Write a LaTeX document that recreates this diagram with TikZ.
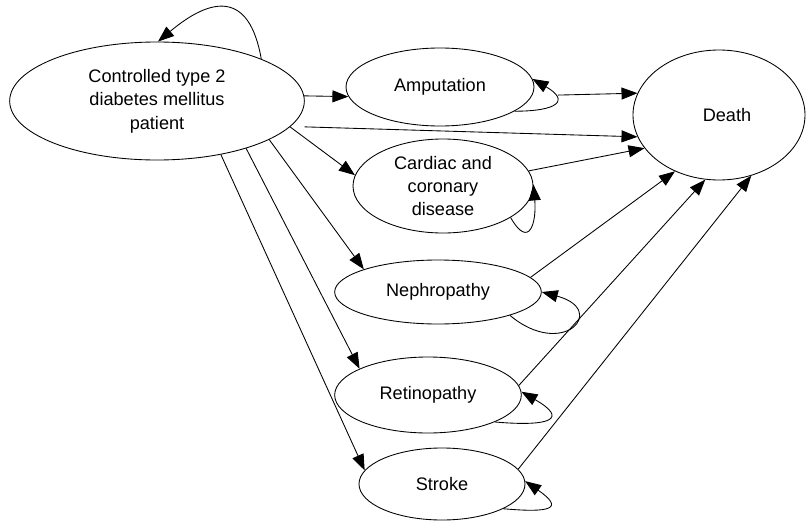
\documentclass[tikz,border=0pt]{standalone}
\usepackage{fontspec}
\setmainfont{Liberation Sans}
\usetikzlibrary{arrows.meta,shapes.geometric}

\begin{document}
\begin{tikzpicture}[
  x=0.75pt,y=-0.75pt,
  font=\fontsize{13.6}{17.5}\selectfont,>={Triangle[length=12pt,width=9pt]},
  state/.style={ellipse,draw,line width=0.65pt,inner sep=0pt,align=center},
  edge/.style={->,line width=0.65pt},
  selfloop/.style={->,line width=0.65pt,looseness=3.5}
]
\useasboundingbox (0,0) rectangle (807,521);
% States of the Markov model; each complication has its own row.
\node[state,minimum width=221pt,minimum height=88.5pt] (patient) at (157,101) {Controlled type 2\\diabetes mellitus\\patient};
\node[state,minimum width=141pt,minimum height=58.5pt] (amp) at (440,87) {Amputation};
\node[state,minimum width=135pt,minimum height=70.5pt] (cardiac) at (443,186) {Cardiac and\\coronary\\disease};
\node[state,minimum width=155pt,minimum height=48pt] (neph) at (438,292) {Nephropathy};
\node[state,minimum width=140pt,minimum height=57pt] (retino) at (428,395) {Retinopathy};
\node[state,minimum width=124.5pt,minimum height=54pt] (stroke) at (442,484) {Stroke};
\node[state,minimum width=129pt,minimum height=97.5pt] (death) at (719,115) {\hspace*{12pt}Death};
\draw[edge] (patient.22) to[out=100,in=40,looseness=1.7] (patient.89);
\draw[edge] (patient.2) -- (amp.186);
\draw[edge] ([xshift=11pt]patient.-11) -- (death.195);
\draw[edge] (patient.-11) -- (cardiac.173);
\draw[edge] (patient.-19) -- (neph.163);
\draw[edge] (patient.-28) -- (retino.159);
\draw[edge] (patient.-40) -- (stroke.170);
\draw[edge] ([xshift=19pt]amp.-5) -- (death.165);
\draw[edge] (cardiac.10) -- (death.204);
\draw[edge] (neph.9) -- (death.232);
\draw[edge] (retino.6) -- (death.258);
\draw[edge] (stroke.11) -- (death.298);
\draw[selfloop,looseness=3] (amp.-18) to[out=0,in=-30] (amp.5);
\draw[selfloop,looseness=2.4] (cardiac.-25) to[out=-60,in=-85] (cardiac.1);
\draw[selfloop,looseness=4.5] (neph.-18) to[out=-40,in=-15] (neph.0);
\draw[selfloop] (retino.-22) to[out=-5,in=-30] (retino.2);
\draw[selfloop] (stroke.-22) to[out=-5,in=-35] (stroke.2);
\end{tikzpicture}
\end{document}
